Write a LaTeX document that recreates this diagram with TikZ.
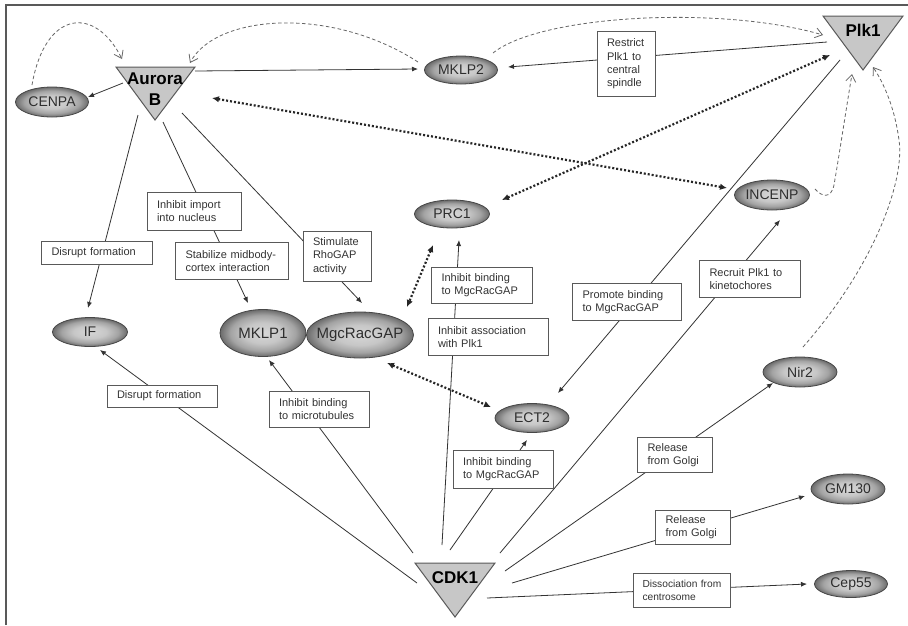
\documentclass[tikz,border=0pt]{standalone}
\usepackage{fontspec}
\setmainfont{Liberation Sans}
\usetikzlibrary{shapes.geometric,arrows.meta,calc,backgrounds}

% zero-width box so the ellipse size comes only from its minimum size
\newcommand{\enttext}[1]{\makebox[0pt]{#1}}

% soft gray ball for the substrate ellipses
\pgfdeclareradialshading{entshade}{\pgfpoint{0bp}{0bp}}{%
  color(0bp)=(black!16); color(11bp)=(black!22); color(19bp)=(black!36);
  color(25bp)=(black!58); color(50bp)=(black!58)}

\begin{document}
\begin{tikzpicture}[x=1pt,y=-1pt,
  frame/.style={draw=black!65, line width=2pt, line join=miter},
  ent/.style={ellipse, draw=black!72, line width=0.8pt, inner sep=0pt,
    shading=entshade, text=black!82,
    font=\fontsize{14}{16}\selectfont},
  bigent/.style={ent, font=\fontsize{15}{17}\selectfont},
  kin/.style={fill=black!22, draw=black!65, line width=1pt, line join=miter},
  kinlabel/.style={font=\fontsize{17}{21}\selectfont\bfseries, align=center,
    inner sep=0pt, text=black},
  note/.style={draw=black!65, fill=white, line width=0.9pt, align=left,
    inner xsep=10pt, inner ysep=0pt, text=black!80,
    font=\fontsize{11}{13.3}\selectfont},
  link/.style={draw=black!80, line width=0.8pt, -{Latex[length=6pt,width=5pt]}},
  assoc/.style={draw=black!85, line width=2.2pt, dash pattern=on 2pt off 2pt,
    {Latex[length=7pt,width=6.5pt]}-{Latex[length=7pt,width=6.5pt]}},
  feedback/.style={draw=black!60, line width=0.8pt, dash pattern=on 3.5pt off 2.5pt,
    -{Straight Barb[length=7pt,width=10pt,line width=0.8pt]}}
]
\useasboundingbox (0,0) rectangle (908,625);

% kinases
\filldraw[kin] (116,67) -- (195,67) -- (155,120) -- cycle;
\node[kinlabel] (aurora) at (155,89) {Aurora\\B};
\filldraw[kin] (823,16) -- (903,16) -- (863,70) -- cycle;
\node[kinlabel] (plk) at (863,30) {Plk1};
\filldraw[kin] (415,563) -- (495,563) -- (455,617) -- cycle;
\node[kinlabel] (cdk) at (455,578) {CDK1};

% substrates
\node[ent, minimum width=73pt, minimum height=30pt] (cenpa) at (52,102) {\enttext{CENPA}};
\node[ent, minimum width=73pt, minimum height=28pt] (mklp2) at (461,70) {\enttext{MKLP2}};
\node[ent, minimum width=75pt, minimum height=28pt] (prc1) at (452,214) {\enttext{PRC1}};
\node[ent, minimum width=75pt, minimum height=30pt] (incenp) at (772,195) {\enttext{INCENP}};
\node[ent, minimum width=75pt, minimum height=29pt] (ifil) at (90,332) {\enttext{IF}};
\node[bigent, minimum width=86pt, minimum height=47pt] (mklp1) at (263,333) {\enttext{MKLP1}};
\node[bigent, minimum width=107pt, minimum height=46pt] (mgc) at (360,335) {\enttext{MgcRacGAP}};
\node[ent, minimum width=74pt, minimum height=29pt] (ect2) at (532,418) {\enttext{ECT2}};
\node[ent, minimum width=74pt, minimum height=30pt] (nir2) at (800,372) {\enttext{Nir2}};
\node[ent, minimum width=74pt, minimum height=30pt] (gm130) at (848,489) {\enttext{GM130}};
\node[ent, minimum width=73pt, minimum height=27pt] (cep55) at (851,584) {\enttext{Cep55}};

% effect labels
\node[note, text width=38pt, minimum height=65pt] (brestrict) at (626,64) {Restrict\\Plk1 to\\central\\spindle};
\node[note, text width=91pt, minimum height=23pt] (bdisrupta) at (97,253) {Disrupt formation};
\node[note, text width=74pt, minimum height=38pt] (bimport) at (194,211) {Inhibit import\\into nucleus};
\node[note, text width=93pt, minimum height=37pt] (bstab) at (232,261) {Stabilize midbody-\\cortex interaction};
\node[note, text width=48pt, minimum height=50pt] (bstim) at (337,256) {Stimulate\\RhoGAP\\activity};
\node[note, text width=90pt, minimum height=22pt] (bdisruptb) at (162,396) {Disrupt formation};
\node[note, text width=80pt, minimum height=36pt] (bmicro) at (319,409) {Inhibit binding\\to microtubules};
\node[note, text width=81pt, minimum height=36pt] (bprc) at (482,285) {Inhibit binding\\to MgcRacGAP};
\node[note, text width=100pt, minimum height=37pt] (bassoc) at (488,337) {Inhibit association\\with Plk1};
\node[note, text width=89pt, minimum height=37pt] (bpromote) at (627,302) {Promote binding\\to MgcRacGAP};
\node[note, text width=81pt, minimum height=37pt] (brecruit) at (750,279) {Recruit Plk1 to\\kinetochores};
\node[note, text width=80pt, minimum height=38pt] (bect) at (503,469) {Inhibit binding\\to MgcRacGAP};
\node[note, text width=55pt, minimum height=35pt] (bgolgia) at (675,455) {Release\\from Golgi};
\node[note, text width=55pt, minimum height=34pt] (bgolgib) at (693,527) {Release\\from Golgi};
\node[note, text width=79pt, inner xsep=9pt, minimum height=34pt,
  font=\fontsize{10.2}{13.3}\selectfont] (bdissoc) at (682,590) {Dissociation from\\centrosome};

\begin{pgfonlayer}{background}
\fill[white] (0,0) rectangle (908,625);
\draw[frame] (6,625) -- (6,5) -- (908,5);

% Aurora B
\draw[link] ($(aurora)+(-32,-6)$) -- ($(cenpa)+(36,-5)$);
\draw[link] ($(aurora)+(40,-18)$) -- ($(mklp2)+(-43,-1)$);
\draw[link] ($(aurora)+(-17,26)$) -- ($(ifil)+(-2,-24)$);
\draw[link] ($(aurora)+(8,33)$) -- ($(mklp1)+(-15,-30)$);
\draw[link] ($(aurora)+(27,24)$) -- ($(mgc)+(2,-32)$);

% Plk1
\draw[link] ($(plk)+(-36,12)$) -- ($(mklp2)+(47,-3)$);
\draw[link] ($(plk)+(-23,30)$) -- ($(ect2)+(26,-25)$);

% CDK1
\draw[link] ($(cdk)+(-38,5)$) -- ($(ifil)+(10,18)$);
\draw[link] ($(cdk)+(-42,-25)$) -- ($(mklp1)+(6,27)$);
\draw[link] ($(cdk)+(-13,-33)$) -- ($(prc1)+(7,26)$);
\draw[link] ($(cdk)+(-5,-28)$) -- ($(ect2)+(-5,22)$);
\draw[link] ($(cdk)+(45,-25)$) -- ($(incenp)+(8,25)$);
\draw[link] ($(cdk)+(50,-7)$) -- ($(nir2)+(-27,11)$);
\draw[link] ($(cdk)+(57,5)$) -- ($(gm130)+(-43,7)$);
\draw[link] ($(cdk)+(32,20)$) -- ($(cep55)+(-44,0)$);

% binding partners
\draw[assoc] ($(aurora)+(57,9)$) -- ($(incenp)+(-45,-7)$);
\draw[assoc] ($(plk)+(-33,25)$) -- ($(prc1)+(50,-14)$);
\draw[assoc] ($(prc1)+(-19,31)$) -- ($(mgc)+(47,-28)$);
\draw[assoc] ($(mgc)+(27,28)$) -- ($(ect2)+(-41,-11)$);

% feedback onto the kinases
\draw[feedback] ($(cenpa)+(-20,-17)$) .. controls (45,10) and (95,5) .. ($(aurora)+(-33,-30)$);
\draw[feedback] ($(mklp2)+(-43,-8)$) .. controls (330,5) and (215,15) .. ($(aurora)+(35,-26)$);
\draw[feedback] ($(mklp2)+(32,-17)$) .. controls (540,15) and (720,5) .. ($(plk)+(-40,5)$);
\draw[feedback] ($(incenp)+(43,-6)$) .. controls (822,197) and (831,199) .. (834,185)
  .. controls (840,150) and (846,110) .. ($(plk)+(-11,44)$);
\draw[feedback] ($(nir2)+(3,-25)$) .. controls (875,265) and (905,180) .. (899,140)
  .. controls (895,110) and (885,85) .. ($(plk)+(10,37)$);
\end{pgfonlayer}
\end{tikzpicture}
\end{document}
